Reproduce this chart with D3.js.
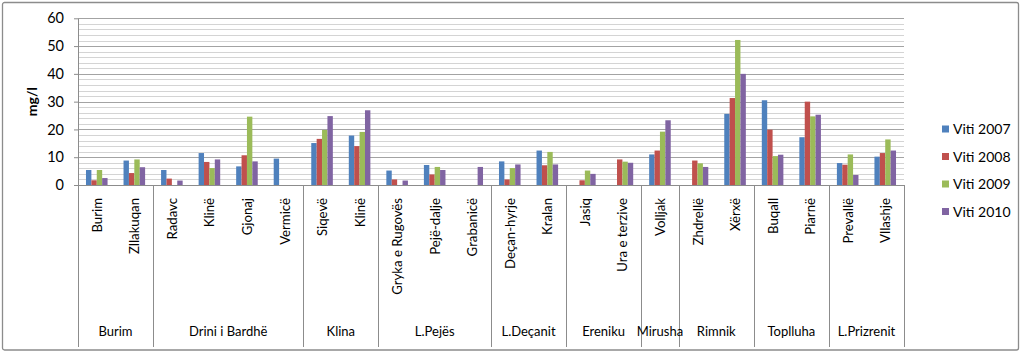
<!DOCTYPE html>
<html>
<head>
<meta charset="utf-8">
<script src="https://cdn.jsdelivr.net/npm/d3@7"></script>
<style>
  body { margin: 0; background: #fff; }
  svg text { font-family: Lato, "Open Sans", sans-serif; fill: #000; }
</style>
</head>
<body>
<div id="chart"></div>
<script>
// stacion matjeje (niveli i pare i boshtit)
const stations = ["Burim", "Zllakuqan", "Radavc", "Klinë", "Gjonaj", "Vermicë", "Siqevë", "Klinë",
  "Gryka e Rugovës", "Pejë-dalje", "Grabanicë", "Deçan-hyrje", "Kralan", "Jasiq", "Ura e terzive",
  "Volljak", "Zhdrellë", "Xërxë", "Buqall", "Piarnë", "Prevallë", "Vllashje"];

// lumenjte (niveli i dyte) dhe sa stacione ka secili
const rivers = ["Burim", "Drini i Bardhë", "Klina", "L.Pejës", "L.Deçanit", "Ereniku", "Mirusha", "Rimnik", "Toplluha", "L.Prizrenit"];
const riverSizes = [2, 4, 2, 3, 2, 2, 1, 2, 2, 2];

const seriesNames = ["Viti 2007", "Viti 2008", "Viti 2009", "Viti 2010"];
const v2007 = [5.4, 8.8, 5.4, 11.5, 6.7, 9.5, 15.1, 17.8, 5.2, 7.2, null, 8.5, 12.4, null, null, 11.0, null, 25.6, 30.5, 17.2, 7.9, 10.2];
const v2008 = [1.7, 4.3, 2.3, 8.3, 10.7, null, 16.6, 14.0, 2.0, 3.8, null, 2.0, 7.1, 1.7, 9.2, 12.4, 8.8, 31.3, 19.9, 30.0, 7.3, 11.5];
const v2009 = [5.4, 9.2, null, 6.1, 24.6, null, 19.8, 19.1, null, 6.5, null, 6.1, 11.9, 5.2, 8.4, 19.2, 7.8, 52.2, 10.4, 24.7, 11.0, 16.4];
const v2010 = [2.5, 6.4, 1.6, 9.2, 8.5, null, 24.8, 26.9, 1.6, 5.4, 6.5, 7.4, 7.4, 4.0, 8.0, 23.3, 6.5, 40.0, 10.9, 25.3, 3.6, 12.4];
const colors = ["#4F81BD", "#C0504D", "#9BBB59", "#8064A2"];

const yTicks = [0, 10, 20, 30, 40, 50, 60];
const yMinor = d3.range(0, 61, 2);

const W = 1023, H = 353;
const plotLeft = 78, plotRight = 904, plotTop = 18.3, plotBottom = 185;

const svg = d3.select("#chart").append("svg")
  .attr("width", W).attr("height", H);

// korniza e jashtme
svg.append("rect")
  .attr("x", 2.5).attr("y", 2.5).attr("width", 1016).attr("height", 347.5)
  .attr("rx", 2).attr("fill", "#fff").attr("stroke", "#8c8c8c").attr("stroke-width", 1.3);

const idx = stations.map((d, i) => i);
const x0 = d3.scaleBand().domain(idx).range([plotLeft, plotRight]).paddingInner(0).paddingOuter(0);
const x1 = d3.scaleBand().domain(seriesNames).range([0, x0.bandwidth()]).paddingInner(0).paddingOuter(1.48);
const y = d3.scaleLinear().domain([0, 60]).range([plotBottom, plotTop]);

// vijat ndihmese
svg.append("g").selectAll("line")
  .data(yMinor.filter(v => v % 10 !== 0))
  .join("line")
  .attr("x1", plotLeft).attr("x2", plotRight)
  .attr("y1", d => Math.round(y(d)) + 0.5).attr("y2", d => Math.round(y(d)) + 0.5)
  .attr("stroke", "#d4d4d4").attr("stroke-width", 1.2);

svg.append("g").selectAll("line")
  .data(yTicks.filter(v => v > 0))
  .join("line")
  .attr("x1", plotLeft).attr("x2", plotRight)
  .attr("y1", d => Math.round(y(d)) + 0.5).attr("y2", d => Math.round(y(d)) + 0.5)
  .attr("stroke", "#a3a3a3").attr("stroke-width", 1.2);

// shtyllat
const allSeries = [v2007, v2008, v2009, v2010];
allSeries.forEach((vals, s) => {
  svg.append("g").selectAll("rect")
    .data(vals.map((v, i) => ({ i: i, v: v })).filter(d => d.v != null))
    .join("rect")
    .attr("x", d => x0(d.i) + x1(seriesNames[s]))
    .attr("y", d => y(d.v))
    .attr("width", x1.bandwidth())
    .attr("height", d => plotBottom - y(d.v))
    .attr("fill", colors[s]);
});

// boshti Y
const yAxis = svg.append("g")
  .attr("transform", `translate(${plotLeft},0)`)
  .call(d3.axisLeft(y).tickValues(yTicks).tickSize(4).tickPadding(10).tickSizeOuter(0));
yAxis.select(".domain").attr("stroke", "#8c8c8c");
yAxis.selectAll(".tick line").attr("stroke", "#8c8c8c");
yAxis.selectAll("text").style("font-size", "14.5px").style("fill", "#000");

svg.append("text")
  .attr("transform", `translate(37, ${(plotTop + plotBottom) / 2}) rotate(-90)`)
  .attr("text-anchor", "middle")
  .style("font-size", "14px")
  .style("font-weight", "bold")
  .text("mg/l");

// boshti X
svg.append("line")
  .attr("x1", plotLeft).attr("x2", plotRight).attr("y1", plotBottom + 0.5).attr("y2", plotBottom + 0.5)
  .attr("stroke", "#8c8c8c");

svg.append("g").selectAll("text")
  .data(idx)
  .join("text")
  .attr("transform", d => `translate(${x0(d) + x0.bandwidth() / 2 + 5}, 198) rotate(-90)`)
  .attr("text-anchor", "end")
  .style("font-size", "13.2px")
  .text(d => stations[d]);

// ndarja sipas lumenjve
const bounds = [0];
riverSizes.forEach(n => bounds.push(bounds[bounds.length - 1] + n));

svg.append("g").selectAll("line")
  .data(bounds)
  .join("line")
  .attr("x1", d => Math.round(d < stations.length ? x0(d) : plotRight) + 0.5)
  .attr("x2", d => Math.round(d < stations.length ? x0(d) : plotRight) + 0.5)
  .attr("y1", plotBottom).attr("y2", 347)
  .attr("stroke", "#8c8c8c");

svg.append("g").selectAll("text")
  .data(rivers)
  .join("text")
  .attr("x", (d, i) => {
    const a = x0(bounds[i]);
    const b = bounds[i + 1] < stations.length ? x0(bounds[i + 1]) : plotRight;
    return (a + b) / 2;
  })
  .attr("y", 336)
  .attr("text-anchor", "middle")
  .style("font-size", "13px")
  .text(d => d);

// legjenda
const legend = svg.append("g").selectAll("g")
  .data(seriesNames)
  .join("g")
  .attr("transform", (d, i) => `translate(942, ${129 + i * 27.5})`);

legend.append("rect")
  .attr("x", 0).attr("y", -3.5).attr("width", 7).attr("height", 7)
  .attr("fill", (d, i) => colors[i]);

legend.append("text")
  .attr("x", 11).attr("y", 5)
  .style("font-size", "14px")
  .text(d => d);
</script>
</body>
</html>
